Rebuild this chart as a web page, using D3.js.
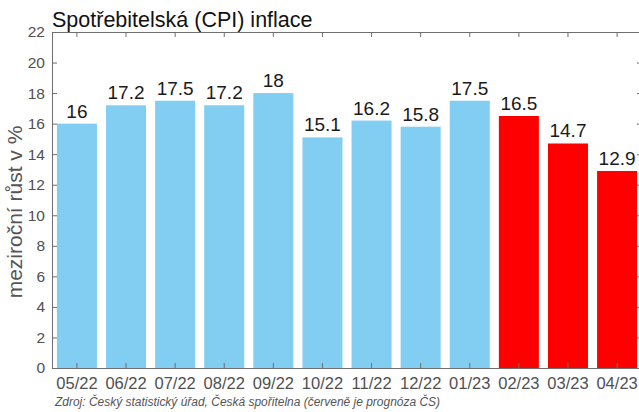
<!DOCTYPE html>
<html>
<head>
	<meta charset="UTF-8">
	<script src="https://d3js.org/d3.v7.min.js"></script>
	<title>CPI inflace</title>
	<style>
		body { margin: 0; background: #fff; }
		svg { display: block; }
	</style>
</head>
<body>
	<svg></svg>
	<script type="text/javascript">
		const width = 639;
		const height = 412;
		const margin = ({top: 32, right: -3, bottom: 44, left: 52});

		// data
		const months = ["05/22", "06/22", "07/22", "08/22", "09/22", "10/22", "11/22", "12/22", "01/23", "02/23", "03/23", "04/23"];
		const values = [16, 17.2, 17.5, 17.2, 18, 15.1, 16.2, 15.8, 17.5, 16.5, 14.7, 12.9];
		const forecast = [false, false, false, false, false, false, false, false, false, true, true, true];
		const yTicks = [0, 2, 4, 6, 8, 10, 12, 14, 16, 18, 20, 22];

		const data = months.map((m, i) => ({month: m, value: values[i], forecast: forecast[i]}));

		const narrow = "'Liberation Sans Narrow', 'Arial Narrow', 'Liberation Sans', Arial, sans-serif";
		const sans = "'Liberation Sans', Arial, Helvetica, sans-serif";

		const x = d3.scaleBand()
		    .domain(months)
		    .range([margin.left, width - margin.right])
		    .paddingInner(0.185)
		    .paddingOuter(0.1);

		const y = d3.scaleLinear()
		    .domain([0, 22])
		    .range([height - margin.bottom, margin.top]);

		const svg = d3.select("svg")
		    .attr("width", width)
		    .attr("height", height)
		    .attr("viewBox", [0, 0, width, height]);

		// bars
		svg.append("g")
		  .selectAll("rect")
		  .data(data)
		  .join("rect")
		    .attr("x", d => x(d.month))
		    .attr("y", d => y(d.value))
		    .attr("width", x.bandwidth())
		    .attr("height", d => y(0) - y(d.value))
		    .attr("fill", d => d.forecast ? "#ff0000" : "#82cdf2");

		// value labels
		svg.append("g")
		    .attr("font-family", sans)
		    .attr("font-size", 19)
		    .attr("fill", "#1a1a1a")
		    .attr("text-anchor", "middle")
		  .selectAll("text")
		  .data(data)
		  .join("text")
		    .attr("x", d => x(d.month) + x.bandwidth() / 2)
		    .attr("y", d => y(d.value) - 6)
		    .text(d => d.value);

		const axisColor = "#6e6e6e";
		const labelColor = "#505050";

		// left axis, ticks inside
		svg.append("g")
		    .attr("transform", `translate(${margin.left},0)`)
		    .call(d3.axisLeft(y).tickValues(yTicks).tickSizeInner(-5).tickSizeOuter(0).tickPadding(7))
		    .call(g => g.selectAll("line, path").attr("stroke", axisColor))
		    .call(g => g.selectAll("text")
		        .attr("fill", labelColor)
		        .attr("font-family", narrow)
		        .attr("font-size", 15.5));

		// right axis, ticks inside, no labels
		svg.append("g")
		    .attr("transform", `translate(${width - margin.right},0)`)
		    .call(d3.axisRight(y).tickValues(yTicks).tickSizeInner(-5).tickSizeOuter(0).tickFormat(""))
		    .call(g => g.selectAll("line, path").attr("stroke", axisColor));

		// bottom axis
		svg.append("g")
		    .attr("transform", `translate(0,${y(0)})`)
		    .call(d3.axisBottom(x).tickSizeInner(-5).tickSizeOuter(0).tickPadding(9))
		    .call(g => g.selectAll("line, path").attr("stroke", axisColor))
		    .call(g => g.selectAll("text")
		        .attr("fill", labelColor)
		        .attr("font-family", narrow)
		        .attr("font-size", 16.5));

		// top axis
		svg.append("g")
		    .attr("transform", `translate(0,${margin.top})`)
		    .call(d3.axisTop(x).tickSizeInner(-5).tickSizeOuter(0).tickFormat(""))
		    .call(g => g.selectAll("line, path").attr("stroke", axisColor));

		// title
		svg.append("text")
		    .attr("x", margin.left)
		    .attr("y", 27)
		    .attr("font-family", sans)
		    .attr("font-size", 21.5)
		    .attr("fill", "#111")
		    .text("Spotřebitelská (CPI) inflace");

		// y label
		svg.append("text")
		    .attr("transform", "translate(22,212) rotate(-90)")
		    .attr("text-anchor", "middle")
		    .attr("font-family", sans)
		    .attr("font-size", 21)
		    .attr("fill", "#555")
		    .text("meziroční růst v %");

		// source
		svg.append("text")
		    .attr("x", 55)
		    .attr("y", 406)
		    .attr("font-family", narrow)
		    .attr("font-style", "italic")
		    .attr("font-size", 12)
		    .attr("textLength", 385)
		    .attr("lengthAdjust", "spacingAndGlyphs")
		    .attr("fill", "#555")
		    .text("Zdroj: Český statistický úřad, Česká spořitelna (červeně je prognóza ČS)");
	</script>
</body>
</html>
